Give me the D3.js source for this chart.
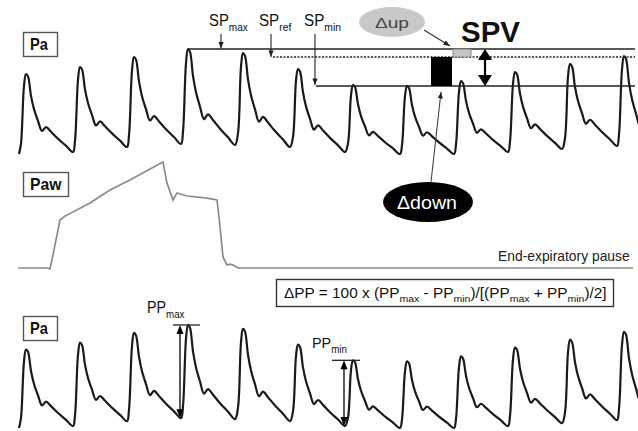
<!DOCTYPE html>
<html>
<head>
<meta charset="utf-8">
<script src="https://cdn.jsdelivr.net/npm/d3@7"></script>
<style>
  body { margin: 0; background: #fff; }
  svg { display: block; font-family: "Liberation Sans", Arial, sans-serif; }
</style>
</head>
<body>
<svg width="638" height="431"></svg>
<script>
// arterial pressure beats: peak time (samples), systolic and following diastolic (mmHg)
const peakT = [26, 80, 134, 188, 243, 298, 353, 407, 461, 515, 570, 624];
const sysP  = [120, 127, 137, 145, 141, 125, 109, 108, 113, 122, 130, 138];
const diaP  = [42, 47, 50, 49, 47, 42, 40, 40, 42, 45, 48, 42];
const startP = 40;
const spRef = 137;

// one beat: [offset from peak, fraction of pulse]
const upShape = [[-5, 0.13], [-2, 0.85], [0, 1]];
const downShape = [[2, 0.97], [5, 0.72], [8, 0.55], [12, 0.40], [16, 0.27], [20, 0.32],
                   [25, 0.26], [32, 0.17], [40, 0.08], [47, 0]];

// airway pressure (cmH2O)
const pawT = [18, 47, 50, 55, 60, 65, 90, 110, 130, 150, 163, 167, 173, 177, 187, 207, 217, 219, 223, 227, 230, 233, 238, 633];
const pawV = [5, 5, 4.7, 12.7, 21, 22.3, 26.7, 31, 34.3, 38, 40.3, 33.3, 27.7, 30, 29, 28.3, 27.7, 22, 8.7, 6, 6.3, 6, 5, 5];

const svg = d3.select('svg');
const x = d3.scaleLinear().domain([0, 638]).range([0, 638]);
const yTop = d3.scaleLinear().domain([40, 145]).range([154, 49]);
const yBot = d3.scaleLinear().domain([40, 145]).range([428, 325]);
const yPaw = d3.scaleLinear().domain([5, 40]).range([268, 163]);

const defs = svg.append('defs');
defs.append('marker').attr('id', 'ah')
  .attr('viewBox', '0 0 10 10').attr('refX', 10).attr('refY', 5)
  .attr('markerWidth', 6).attr('markerHeight', 6)
  .attr('orient', 'auto-start-reverse')
  .append('path').attr('d', 'M0,1L10,5L0,9z').attr('fill', '#222');

// build the pressure points
const pts = [[peakT[0] - 7, startP]];
peakT.forEach((t, i) => {
  const prev = i ? diaP[i - 1] : startP;
  upShape.forEach(([dx, f]) => pts.push([t + dx, prev + f * (sysP[i] - prev)]));
  downShape.forEach(([dx, f]) => pts.push([t + dx, diaP[i] + f * (sysP[i] - diaP[i])]));
});

const trace = (ys) => d3.line().x(d => x(d[0])).y(d => ys(d[1])).curve(d3.curveCatmullRom.alpha(0.5));

[yTop, yBot].forEach(ys => {
  svg.append('path').datum(pts)
    .attr('d', trace(ys))
    .attr('fill', 'none').attr('stroke', '#1a1a1a')
    .attr('stroke-width', 2.2).attr('stroke-linejoin', 'round');
});

svg.append('path').datum(pawT.map((t, i) => [t, pawV[i]]))
  .attr('d', d3.line().x(d => x(d[0])).y(d => yPaw(d[1])))
  .attr('fill', 'none').attr('stroke', '#8a8a8a').attr('stroke-width', 1.7);

// text helper: squeeze text into [x0, x1]; [str] parts are subscripts
function label(x0, x1, y, parts, size, opts = {}) {
  const g = svg.append('g');
  const t = g.append('text').attr('font-size', size)
    .attr('fill', opts.fill || '#111')
    .attr('font-weight', opts.bold ? 'bold' : null);
  let shift = 0;
  parts.forEach(p => {
    const sub = Array.isArray(p);
    const want = sub ? size * 0.3 : 0;
    t.append('tspan')
      .attr('font-size', sub ? size * 0.68 : null)
      .attr('dy', want - shift)
      .text(sub ? p[0] : p);
    shift = want;
  });
  const w = t.node().getBBox().width;
  g.attr('transform', `translate(${x0},${y}) scale(${(x1 - x0) / w},1)`);
  return g;
}

// panel boxes
const boxes = [
  { name: 'Pa', y: 32, w: 34, base: 50 },
  { name: 'Paw', y: 172, w: 45, base: 190 },
  { name: 'Pa', y: 316, w: 34, base: 334 }
];
boxes.forEach(b => {
  svg.append('rect').attr('x', 23.5).attr('y', b.y + 0.5).attr('width', b.w).attr('height', 24)
    .attr('fill', '#fff').attr('stroke', '#555').attr('stroke-width', 1.4);
  label(30, 30 + (b.name === 'Paw' ? 32 : 18), b.base, [b.name], 16, { bold: true });
});

// SP reference lines
const spMax = d3.max(sysP), spMin = d3.min(sysP);
const hline = (x0, x1, yv, dash) => svg.append('line')
  .attr('x1', x(x0)).attr('x2', x(x1)).attr('y1', yv).attr('y2', yv)
  .attr('stroke', '#222').attr('stroke-width', dash ? 1.6 : 1.3)
  .attr('stroke-dasharray', dash ? '2,1.5' : null);
hline(188, 635, yTop(spMax));
hline(273, 635, yTop(spRef), true);
hline(316, 635, yTop(spMin));

const arrow = (x0, y0, x1, y1, col) => svg.append('line')
  .attr('x1', x0).attr('y1', y0).attr('x2', x1).attr('y2', y1)
  .attr('stroke', col || '#222').attr('stroke-width', 1.1).attr('marker-end', 'url(#ah)');
arrow(221, 34, 221, yTop(spMax) - 0.5);
arrow(271, 34, 271, yTop(spRef));
arrow(315, 34, 315, yTop(spMin) - 1);

label(209, 248, 26, ['SP', ['max']], 17);
label(259, 292, 26, ['SP', ['ref']], 17);
label(304, 341, 26, ['SP', ['min']], 17);

// delta up / delta down
svg.append('rect').attr('x', 453).attr('y', yTop(spMax)).attr('width', 18)
  .attr('height', yTop(spRef) - yTop(spMax))
  .attr('fill', '#c4c4c4').attr('stroke', '#777').attr('stroke-width', 0.8);
svg.append('rect').attr('x', 431).attr('y', yTop(spRef)).attr('width', 21)
  .attr('height', yTop(spMin) - yTop(spRef)).attr('fill', '#000');

svg.append('ellipse').attr('cx', 392).attr('cy', 22).attr('rx', 33).attr('ry', 15).attr('fill', '#c8c8c8');
label(375, 409, 28, ['\u0394up'], 15, { fill: '#444' });
arrow(424, 30, 450, 46, '#333');

svg.append('ellipse').attr('cx', 428).attr('cy', 202).attr('rx', 45).attr('ry', 20).attr('fill', '#000');
label(397, 457, 209, ['\u0394down'], 18, { fill: '#fff' });
arrow(431, 182, 441, yTop(spMin) + 6, '#444');

label(461, 520, 42, ['SPV'], 30, { bold: true });

// double arrows
function dblArrow(xc, y0, y1, hw, hh, sw) {
  svg.append('line').attr('x1', xc).attr('x2', xc).attr('y1', y0 + hh * 0.5).attr('y2', y1 - hh * 0.5)
    .attr('stroke', '#000').attr('stroke-width', sw);
  svg.append('path').attr('fill', '#000')
    .attr('d', `M${xc},${y0}L${xc + hw / 2},${y0 + hh}L${xc - hw / 2},${y0 + hh}Z` +
               `M${xc},${y1}L${xc + hw / 2},${y1 - hh}L${xc - hw / 2},${y1 - hh}Z`);
}
dblArrow(485, yTop(spMax), yTop(spMin), 14, 11, 2.2);

// pulse pressure marks
dblArrow(180, yBot(sysP[3]), yBot(diaP[2]), 7, 9, 1.3);
hline(173, 200, yBot(sysP[3]));
dblArrow(344, yBot(sysP[6]), yBot(diaP[5]), 7, 9, 1.3);
hline(332, 360, yBot(sysP[6]));
label(147, 185, 313, ['PP', ['max']], 16);
label(312, 347, 348, ['PP', ['min']], 15);

// formula
svg.append('rect').attr('x', 276.5).attr('y', 279.5).attr('width', 337).attr('height', 27)
  .attr('fill', '#fff').attr('stroke', '#333').attr('stroke-width', 1.4);
label(284, 607, 298, ['\u0394PP = 100 x (PP', ['max'], ' - PP', ['min'], ')/[(PP', ['max'], ' + PP', ['min'], ')/2]'], 14.5);

label(498, 630, 261, ['End-expiratory pause'], 14, { fill: '#222' });
</script>
</body>
</html>
